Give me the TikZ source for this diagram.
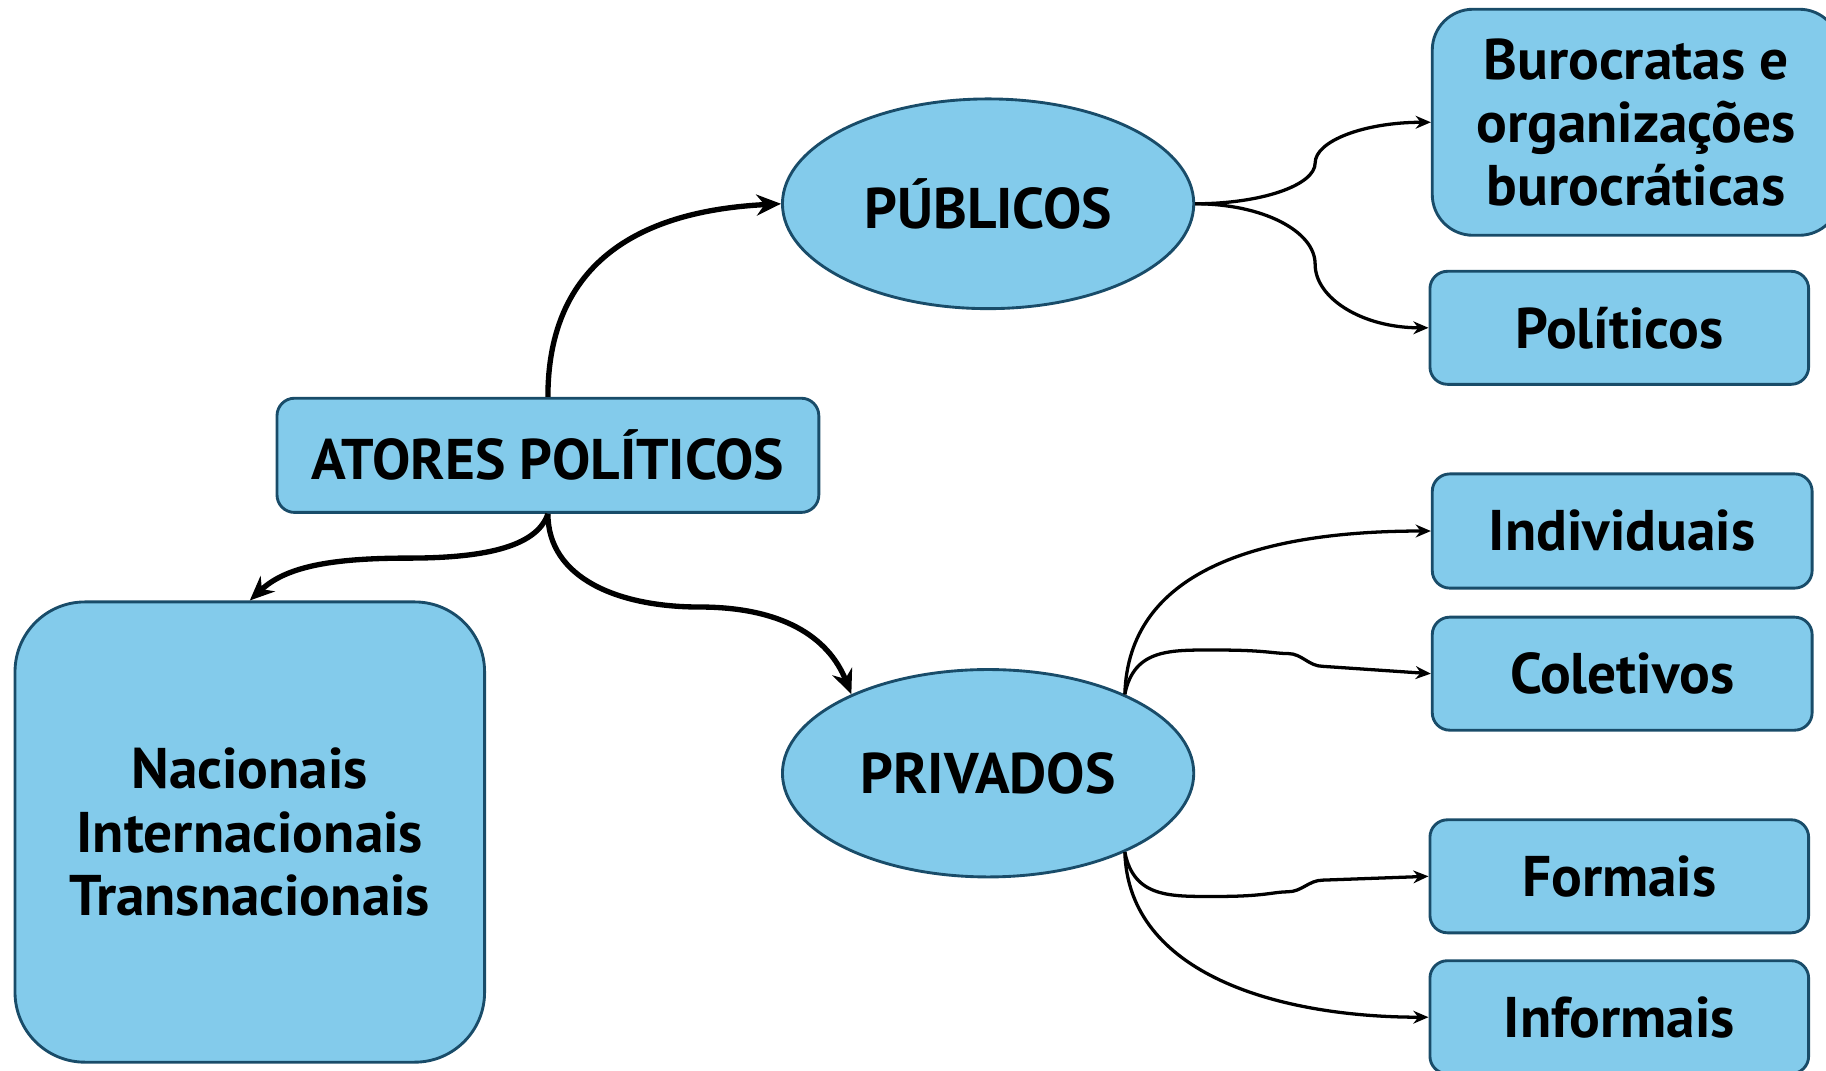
\documentclass[tikz,border=0pt]{standalone}
\usepackage{fontspec}
\newfontfamily\lblfont{PT Sans}
\usetikzlibrary{shapes.geometric,arrows.meta}

\definecolor{boxfill}{HTML}{83CBEB}
\definecolor{boxline}{HTML}{194C69}

\begin{document}
\begin{tikzpicture}[x=0.01cm,y=-0.01cm,
	box/.style={draw=boxline,fill=boxfill,line width=0.7pt,rounded corners=0.15cm,inner sep=0pt,align=center,
		font=\lblfont\bfseries\fontsize{14}{15.4}\selectfont},
	oval/.style={box,ellipse,rounded corners=0pt},
	bigarrow/.style={line width=1.3pt,-{Stealth[length=0.21cm,width=0.18cm]}},
	smallarrow/.style={line width=0.8pt,-{Stealth[length=0.13cm,width=0.11cm]}}]

	\useasboundingbox (0,0) rectangle (1568,919);
	\clip (0,0) rectangle (1568,919);

	\node [box,minimum width=4.65cm,minimum height=0.98cm] (AP) at (470.5,391) {ATORES POLÍTICOS};
	\node [oval,minimum width=3.53cm,minimum height=1.8cm] (PUB) at (848.5,175) {PÚBLICOS};
	\node [oval,minimum width=3.53cm,minimum height=1.78cm] (PRI) at (848.5,664) {PRIVADOS};
	\node [box,rounded corners=0.6cm,minimum width=4.03cm,minimum height=3.95cm] (NAC) at (214.5,714.5)
		{Nacionais\\Internacionais\\Transnacionais};

	\node [box,rounded corners=0.35cm,minimum width=3.5cm,minimum height=1.94cm] (BUR) at (1405,105)
		{Burocratas e\\organizações\\burocráticas};
	\node [box,minimum width=3.25cm,minimum height=0.97cm] (POL) at (1390.5,281.5) {Políticos};
	\node [box,minimum width=3.26cm,minimum height=0.98cm] (IND) at (1393,456) {Individuais};
	\node [box,minimum width=3.26cm,minimum height=0.97cm] (COL) at (1393,578.5) {Coletivos};
	\node [box,minimum width=3.25cm,minimum height=0.97cm] (FOR) at (1390.5,752.5) {Formais};
	\node [box,minimum width=3.25cm,minimum height=0.97cm] (INF) at (1390.5,873.5) {Informais};

	\draw [bigarrow] (AP.north) .. controls +(0,-130) and +(-100,5) .. (PUB.west);
	\draw [bigarrow] (AP.south) .. controls +(0,55) and +(-70,0) .. ++(130,80)
		.. controls +(70,0) and +(-20,-50) .. (PRI.150);
	\draw [bigarrow] (AP.south) .. controls +(-10,30) and +(60,0) .. ++(-120,38)
		.. controls +(-70,0) and +(30,-28) .. (NAC.north);

	\draw [smallarrow] (PUB.east) .. controls +(57,0) and +(0,19) .. ++(103,-35)
		.. controls +(0,-19) and +(-57,0) .. (BUR.west);
	\draw [smallarrow] (PUB.east) .. controls +(57,0) and +(0,-29) .. ++(103,52)
		.. controls +(0,29) and +(-57,0) .. (POL.west);

	\draw [smallarrow] (PRI.30) .. controls +(3,-105) and +(-150,0) .. (IND.west);
	\draw [smallarrow] (PRI.30) .. controls +(8,-40) and +(-40,0) .. ++(80,-38)
		.. controls +(40,0) and +(-12,0) .. ++(60,3)
		.. controls +(12,0) and +(-12,0) .. ++(30,11) -- (COL.west);
	\draw [smallarrow] (PRI.-30) .. controls +(8,40) and +(-40,0) .. ++(80,38)
		.. controls +(40,0) and +(-12,0) .. ++(60,-4)
		.. controls +(12,0) and +(-12,0) .. ++(30,-10) -- (FOR.west);
	\draw [smallarrow] (PRI.-30) .. controls +(3,105) and +(-128,0) .. (INF.west);
\end{tikzpicture}
\end{document}
